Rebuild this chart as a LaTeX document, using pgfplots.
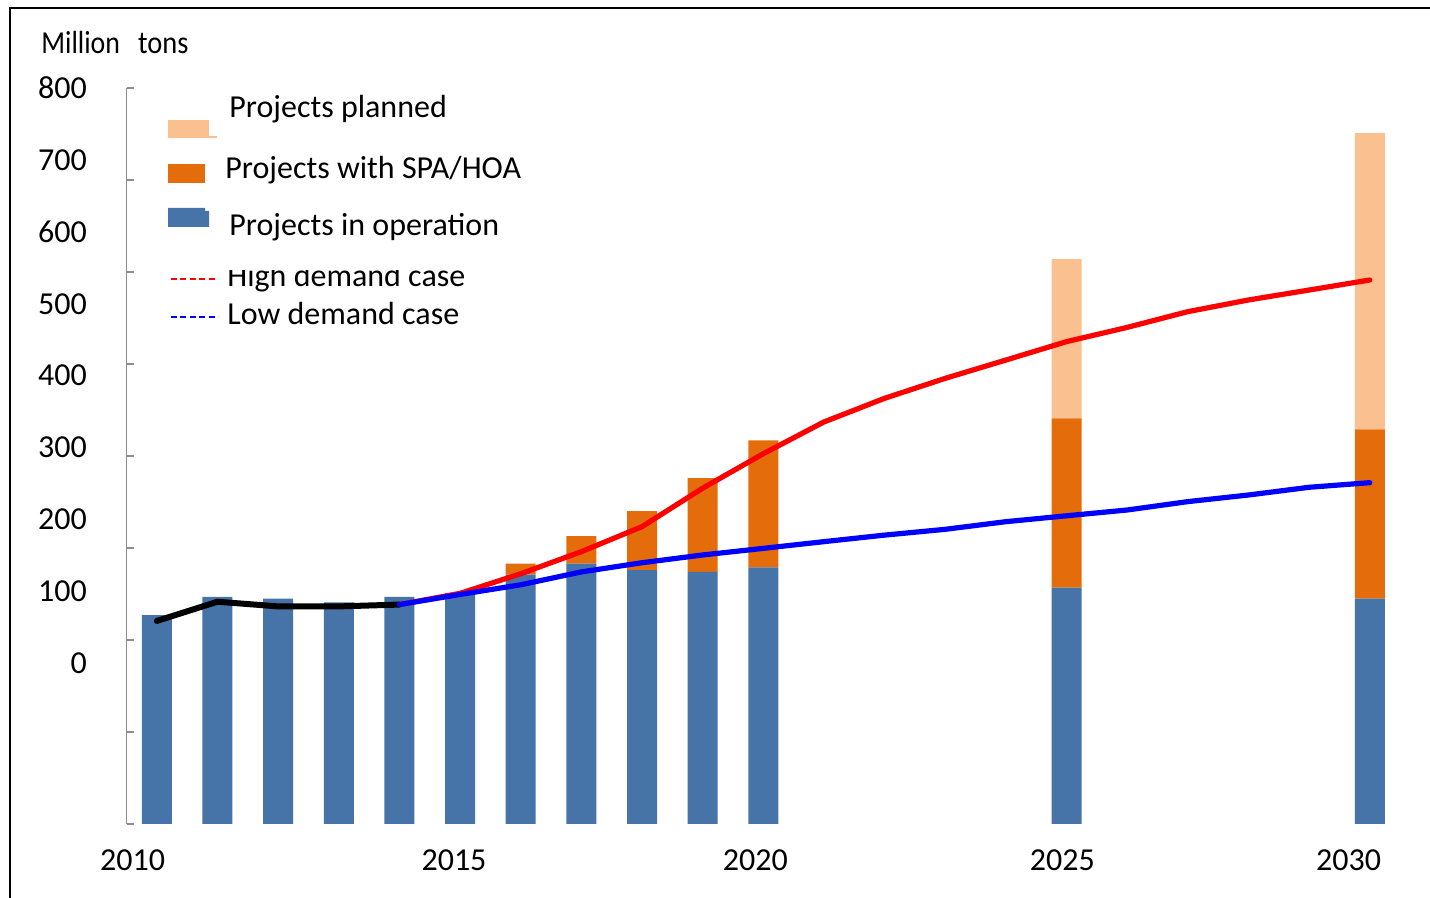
\documentclass[border=0pt]{standalone}
\usepackage{pgfplots}
\pgfplotsset{compat=1.18}
\usepackage{fontspec}
\setmainfont{Carlito}
\definecolor{bblue}{RGB}{70,115,168}
\definecolor{dorange}{RGB}{228,108,10}
\definecolor{lorange}{RGB}{250,192,144}
\definecolor{axgray}{RGB}{140,140,140}
\newcommand{\lf}{\fontsize{16pt}{19pt}\selectfont}
\begin{document}
\begin{tikzpicture}
\path[use as bounding box] (0,0) rectangle (715pt,449pt);
% bars
\begin{axis}[
  at={(63.25pt,37pt)}, anchor=south west,
  scale only axis, width=636.8pt, height=368pt,
  xmin=2009.5, xmax=2030.5, ymin=0, ymax=800,
  ybar stacked, bar width=15pt,
  axis lines=left,
  x axis line style={draw=none},
  y axis line style={-, draw=axgray, line width=0.9pt},
  xtick={2009.6,2014.9,2019.87,2024.93,2029.65},
  xticklabels={2010,2015,2020,2025,2030},
  xtick style={draw=none},
  xticklabel style={anchor=center, inner sep=0pt, yshift=-16pt, font=\lf},
  ytick={175,253.3,331.5,409.8,488,565.2,643.5,721.7,800},
  yticklabels={0\hspace{1.5pt},100,200,300,400,500,600,700,800},
  ytick style={draw=none},
  yticklabel style={anchor=east, inner sep=0pt, xshift=-17.5pt, font=\lf},
  extra y ticks={0,100,200,300,400,500,600,700,800},
  extra y tick labels={},
  extra y tick style={tick align=inside, major tick length=4pt,
     ytick style={draw=axgray, line width=0.9pt}},
  clip=false,
]
\addplot[fill=bblue, draw=none] coordinates {
 (2010,227) (2011,247) (2012,245) (2013,241) (2014,247) (2015,251)
 (2016,271) (2017,283) (2018,276) (2019,274) (2020,279) (2025,257) (2030,245)};
\addplot[fill=dorange, draw=none] coordinates {
 (2010,0) (2011,0) (2012,0) (2013,0) (2014,0) (2015,0)
 (2016,12) (2017,30) (2018,64) (2019,102) (2020,138) (2025,184) (2030,184)};
\addplot[fill=lorange, draw=none] coordinates {
 (2010,0) (2011,0) (2012,0) (2013,0) (2014,0) (2015,0)
 (2016,0) (2017,0) (2018,0) (2019,0) (2020,0) (2025,173) (2030,322)};
\end{axis}
% lines
\begin{axis}[
  at={(63.25pt,37pt)}, anchor=south west,
  scale only axis, width=636.8pt, height=368pt,
  xmin=2009.5, xmax=2030.5, ymin=0, ymax=800,
  hide axis, clip=false,
]
\addplot[black, line width=3pt, line cap=round, line join=round] coordinates {
 (2010,220.7) (2011,241.6) (2012,236.5) (2013,236.5) (2014,238.5)};
\addplot[red, line width=2.6pt, line cap=round, line join=round] coordinates {
 (2014,238.5) (2015,250.7) (2016,272) (2017,296) (2018,323.2) (2019,365)
 (2020,402.5) (2021,437) (2022,462.7) (2023,484.4) (2024,504.3) (2025,524.3)
 (2026,539.8) (2027,556.9) (2028,569.6) (2029,580.4) (2030,591.3)};
\addplot[blue, line width=2.6pt, line cap=round, line join=round] coordinates {
 (2014,238.5) (2015,249.5) (2016,260) (2017,274) (2018,284) (2019,292.4)
 (2020,299.6) (2021,306.9) (2022,314) (2023,320.3) (2024,328.6) (2025,335)
 (2026,341.3) (2027,350.4) (2028,357.6) (2029,366) (2030,371)};
\end{axis}
% frame, legend and unit label in pixel coordinates
\begin{scope}[x=0.5pt, y=-0.5pt, shift={(0pt,449pt)}]
\draw[black, line width=1pt] (10,898) -- (10,8) -- (1430,8);
\node[anchor=base west, inner sep=0pt, font=\lf] at (41,54) {\scalebox{0.87}[1]{Million}\hspace{9pt}\scalebox{0.89}[1]{tons}};
% legend patches
\fill[lorange] (168,120) rectangle (209,138);
\fill[lorange] (209,136.5) rectangle (217,138);
\fill[dorange] (168,164) rectangle (205,183);
\fill[bblue] (168,208) -- (205,208) -- (205,211) -- (209,211) -- (209,227) -- (168,227) -- cycle;
\draw[red, line width=0.9pt, dash pattern=on 3pt off 1.7pt] (171,279) -- (218,279);
\draw[blue, line width=0.9pt, dash pattern=on 3pt off 1.7pt] (171,317) -- (218,317);
\node[anchor=base west, inner sep=0pt, font=\lf] at (229,118) {Projects planned};
\node[anchor=base west, inner sep=0pt, font=\lf] at (225,179) {Projects with SPA/HOA};
\node[anchor=base west, inner sep=0pt, font=\lf] at (229,236) {Projects in operation};
\begin{scope}
\clip (220,271) rectangle (600,300);
\node[anchor=base west, inner sep=0pt, font=\lf] at (227,287) {High demand case};
\end{scope}
\node[anchor=base west, inner sep=0pt, font=\lf] at (227,325) {Low demand case};
\end{scope}
\end{tikzpicture}
\end{document}
